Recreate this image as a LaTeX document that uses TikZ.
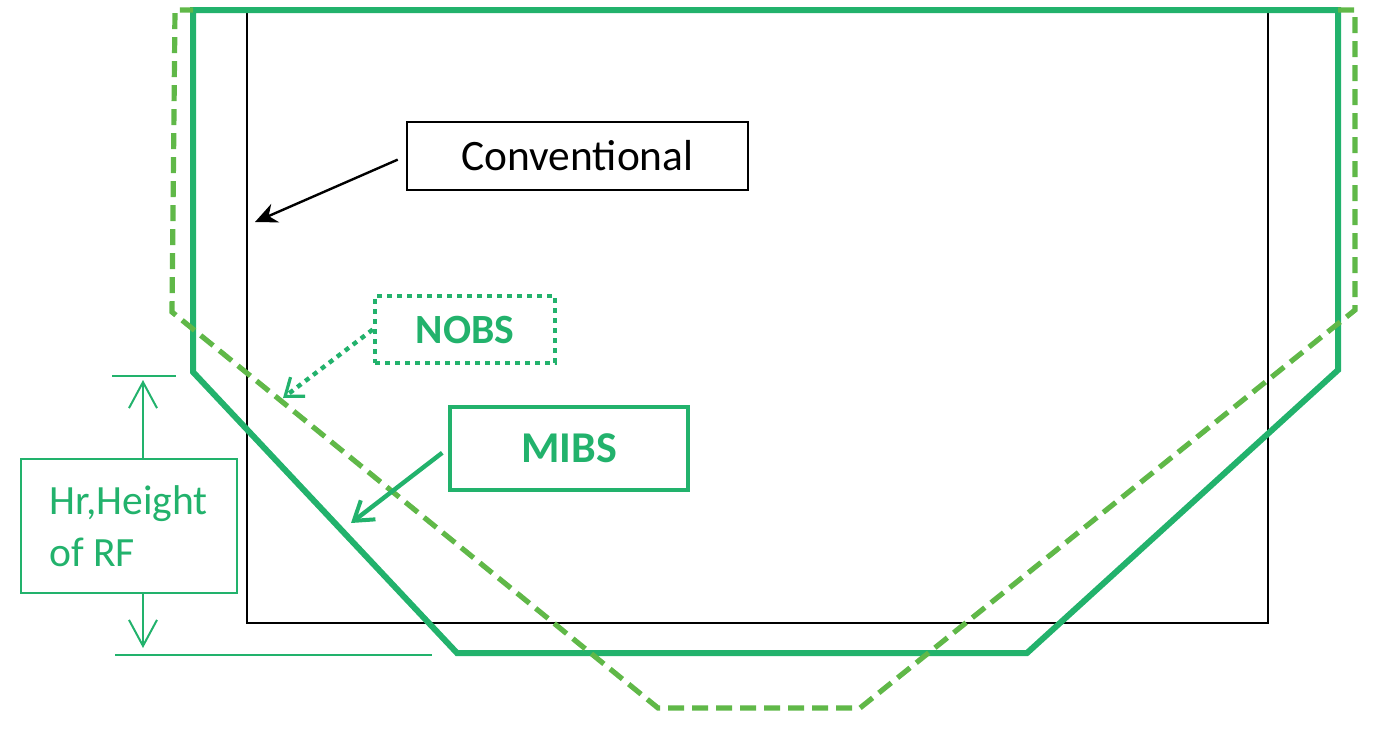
\documentclass[tikz,border=0pt]{standalone}
\usepackage{fontspec}
\setmainfont{Carlito}
\usetikzlibrary{arrows.meta}
\definecolor{mibsgreen}{RGB}{34,178,108}
\definecolor{nobsgreen}{RGB}{96,184,72}
\tikzset{
  frame/.style={draw=black, line width=1pt},
  mibsline/.style={draw=mibsgreen, line width=3pt},
  nobsline/.style={draw=nobsgreen, line width=2.6pt, dash pattern=on 8pt off 4pt},
  labelbox/.style={rectangle, inner sep=0pt, font=\fontsize{21}{26}\selectfont},
  dimline/.style={draw=mibsgreen, line width=1pt},
  dimarrow/.style={dimline, -{Straight Barb[length=13pt,width=14pt,line width=1pt]}},
}
\begin{document}
\begin{tikzpicture}[x=0.5pt,y=-0.5pt]
\useasboundingbox (0,0) rectangle (1388,735);

% conventional vessel outline
\draw[frame] (247,10) rectangle (1268,623);

% MIBS outline
\draw[mibsline] (193,10) -- (1338,10) -- (1338,370) -- (1027,653) -- (457,653) -- (193,372) -- cycle;

% NOBS outline
\draw[nobsline] (1338,10) -- (1355,10) -- (1355,310) -- (860,708) -- (658,708) -- (172,312) -- (175,10) -- (193,10);

% labels
\node[labelbox, draw=black, line width=1pt, minimum width=170.5pt, minimum height=34pt,
      font=\fontsize{21.7}{26}\selectfont] (conv) at (577.5,156) {Conventional};
\node[labelbox, draw=mibsgreen, text=mibsgreen, line width=2.2pt, dash pattern=on 2.5pt off 2.5pt,
      minimum width=90pt, minimum height=33.5pt, font=\fontsize{20.8}{26}\selectfont\bfseries] (nobs) at (465,329.5) {NOBS};
\node[labelbox, draw=mibsgreen, text=mibsgreen, line width=2.2pt,
      minimum width=119pt, minimum height=41.5pt, font=\fontsize{22}{26}\selectfont\bfseries] (mibs) at (569,448.5) {MIBS};
\node[labelbox, draw=mibsgreen, text=mibsgreen, line width=1pt, minimum width=108pt, minimum height=67pt,
      align=left, font=\fontsize{20.8}{26}\selectfont] (hr) at (128.5,526) {Hr,Height\\of RF};

% pointers
\coordinate (convtip) at (255,222);
\coordinate (nobstip) at (283,398);
\coordinate (mibstip) at (351,523);
\draw[black, line width=1.2pt, shorten <=4.5pt, -{Stealth[length=11pt,width=10pt]}] (conv.west) -- (convtip);
\draw[mibsgreen, line width=2.2pt, dash pattern=on 2.5pt off 2.5pt, -{Straight Barb[length=8pt,width=12pt,line width=1.6pt]}] (nobs.west) -- (nobstip);
\draw[mibsgreen, line width=2.2pt, shorten <=3.5pt, -{Straight Barb[length=9pt,width=12pt,line width=2pt]}] (mibs.west) -- (mibstip);

% height of the reflector
\coordinate (htop) at (143,380);
\coordinate (hbot) at (143,648);
\coordinate (ttl) at (112,376);
\coordinate (ttr) at (176,376);
\coordinate (tbl) at (115,655);
\coordinate (tbr) at (432,655);
\draw[dimline] (ttl) -- (ttr);
\draw[dimline] (tbl) -- (tbr);
\draw[dimarrow] (hr.north -| htop) -- (htop);
\draw[dimarrow] (hr.south -| hbot) -- (hbot);
\end{tikzpicture}
\end{document}
